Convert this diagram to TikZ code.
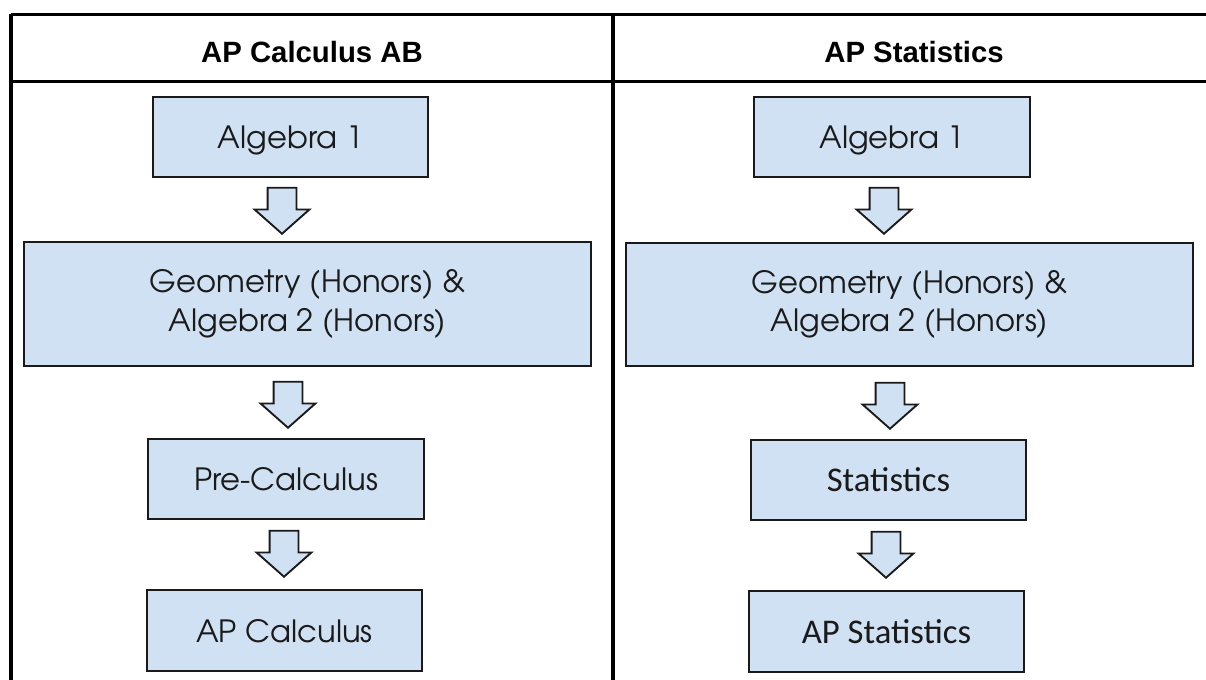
\documentclass[tikz,border=0pt]{standalone}
\usepackage{fontspec}
\usepackage{xcolor}
\usetikzlibrary{shapes.arrows}
\setmainfont{TeX Gyre Adventor}
\newfontfamily\headfont{Liberation Sans}
\newfontfamily\statfont{Carlito}
\definecolor{boxfill}{HTML}{CFE1F2}
\definecolor{ink}{HTML}{1A1A1A}
\newlength\pxu
\setlength\pxu{0.75pt}

\begin{document}
\begin{tikzpicture}[
        x=0.75pt, y=-0.75pt,
        rule/.style={line width=2.6pt, black},
        head/.style={font=\headfont\bfseries\fontsize{22}{26}\selectfont, inner sep=0pt, text depth=0pt},
        course/.style={
            draw=ink,
            line width=1.4pt,
            fill=boxfill,
            text=ink,
            inner sep=0pt,
            align=center,
            font=\fontsize{23}{29}\selectfont
        },
        single/.style={course, text depth=0pt},
        stat/.style={single, font=\statfont\fontsize{26}{30}\selectfont},
        flowarrow/.style={
            single arrow,
            draw=ink,
            line width=1.4pt,
            fill=boxfill,
            shape border rotate=270,
            minimum height=46\pxu,
            minimum width=53\pxu,
            single arrow head extend=13\pxu,
            single arrow tip angle=97,
            inner sep=13.5\pxu,
            anchor=tip
        }
    ]
    \useasboundingbox (0,0) rectangle (1206,680);
    \clip (0,0) rectangle (1206,680);
    \fill[white] (0,0) rectangle (1206,680);

    % table grid
    \draw[rule] (11,14.5) -- (1230,14.5);
    \draw[rule] (11,81.5) -- (1230,81.5);
    \draw[rule] (11,14.5) -- (11,700);
    \draw[rule] (613,14.5) -- (613,700);

    \node[head] (hdrA) at (312,52) {AP Calculus AB};
    \node[head] (hdrB) at (914,52) {AP Statistics};

    % AP Calculus AB path
    \node[single, minimum width=275\pxu, minimum height=80\pxu] (algA) at (290.5,137) {Algebra 1};
    \node[course, minimum width=567\pxu, minimum height=124\pxu] (geoA) at (307.5,304) {Geometry (Honors) \&\\Algebra 2 (Honors)};
    \node[single, minimum width=276\pxu, minimum height=80\pxu] (preA) at (286,479) {Pre-Calculus};
    \node[single, minimum width=275\pxu, minimum height=81\pxu] (apA) at (284.5,630.5) {AP Calculus};

    \node[flowarrow] (arrA1) at (282,235) {};
    \node[flowarrow] (arrA2) at (288,429) {};
    \node[flowarrow] (arrA3) at (284,578) {};

    % AP Statistics path
    \node[single, minimum width=276\pxu, minimum height=80\pxu] (algB) at (892,137) {Algebra 1};
    \node[course, minimum width=567\pxu, minimum height=123\pxu] (geoB) at (909.5,304.5) {Geometry (Honors) \&\\Algebra 2 (Honors)};
    \node[stat, minimum width=275\pxu, minimum height=80\pxu] (statB) at (888.5,480) {Statistics};
    \node[stat, minimum width=275\pxu, minimum height=81\pxu] (apB) at (886.5,631.5) {AP Statistics};

    \node[flowarrow] (arrB1) at (884,235) {};
    \node[flowarrow] (arrB2) at (890,430) {};
    \node[flowarrow] (arrB3) at (886,579) {};
\end{tikzpicture}
\end{document}
